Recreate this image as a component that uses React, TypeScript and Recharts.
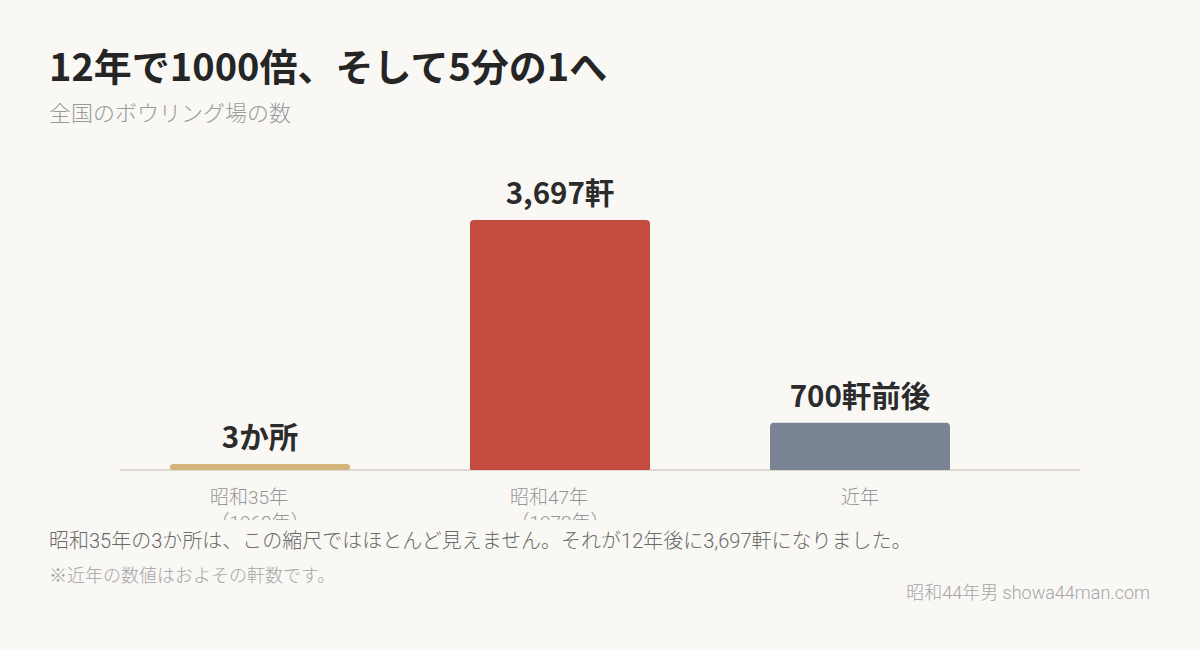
import React from 'react';
import { BarChart, Bar, XAxis, YAxis, LabelList, Cell, Rectangle } from 'recharts';

const categories = ['昭和35年', '昭和47年', '近年'];
const years = ['（1960年）', '（1972年）', ''];
const counts = [3, 3697, 700];
const valueLabels = ['3か所', '3,697軒', '700軒前後'];
const barColors = ['#D4B47A', '#C44B3F', '#7A8494'];

const data = categories.map((c, i) => ({
  name: c,
  value: counts[i],
  label: valueLabels[i],
}));

const JP = "'Noto Sans CJK JP', 'Noto Sans', sans-serif";
const RJ = "Roboto, 'Noto Sans CJK JP', sans-serif";

const Tick = (props: any) => {
  const { x, y, payload } = props;
  const idx = payload.index ?? 0;
  const yr = years[idx];
  return (
    <text x={x} y={y} textAnchor="middle" fill="#959595" fontSize={19} fontWeight={300} fontFamily={RJ}>
      <tspan x={yr ? x - 11 : x} dy={26}>{payload.value}</tspan>
      {yr ? <tspan x={x} dy={25}>{yr}</tspan> : null}
    </text>
  );
};

const BarShape = (p: any) => {
  const small = p.height < 10;
  const r = small ? p.height / 2 : 4;
  return (
    <Rectangle
      x={p.x}
      y={p.y}
      width={p.width}
      height={p.height}
      fill={p.fill}
      radius={small ? [r, r, r, r] : [4, 4, 1, 1]}
    />
  );
};

export default function App() {
  return (
    <div
      style={{
        position: 'absolute',
        left: 0,
        top: 0,
        width: 1200,
        height: 650,
        background: '#F9F8F5',
        overflow: 'hidden',
      }}
    >
      <div
        style={{
          position: 'absolute',
          left: 49,
          top: 38,
          fontFamily: JP,
          fontWeight: 700,
          fontSize: 38,
          color: '#252525',
          lineHeight: '54px',
          whiteSpace: 'nowrap',
        }}
      >
        12年で1000倍、そして5分の1へ
      </div>
      <div
        style={{
          position: 'absolute',
          left: 49,
          top: 95,
          fontFamily: JP,
          fontSize: 22,
          fontWeight: 300,
          color: '#9a9a9a',
          lineHeight: '32px',
          whiteSpace: 'nowrap',
        }}
      >
        全国のボウリング場の数
      </div>

      <div
        style={{
          position: 'absolute',
          left: 120,
          top: 469,
          width: 960,
          height: 2,
          background: '#DCD9D3',
        }}
      />

      <div
        style={{
          position: 'absolute',
          left: 0,
          top: 140,
          width: 1200,
          height: 380,
          overflow: 'hidden',
        }}
      >
        <BarChart
          width={1200}
          height={380}
          data={data}
          margin={{ top: 80, right: 190, bottom: 20, left: 110 }}
          barSize={180}
        >
          <XAxis
            dataKey="name"
            axisLine={false}
            tickLine={false}
            height={30}
            interval={0}
            tick={<Tick />}
          />
          <YAxis hide domain={[0, 3697]} />
          <Bar
            dataKey="value"
            isAnimationActive={false}
            minPointSize={6}
            shape={<BarShape />}
          >
            {data.map((d, i) => (
              <Cell key={d.name} fill={barColors[i]} />
            ))}
            <LabelList
              dataKey="label"
              position="top"
              offset={16}
              fill="#2b2b2b"
              fontSize={29.5}
              fontWeight={700}
              fontFamily={JP}
            />
          </Bar>
        </BarChart>
      </div>

      <div
        style={{
          position: 'absolute',
          left: 49,
          top: 526,
          fontFamily: RJ,
          fontSize: 20,
          fontWeight: 300,
          color: '#6a6a6a',
          lineHeight: '30px',
          whiteSpace: 'nowrap',
        }}
      >
        昭和35年の3か所は、この縮尺ではほとんど見えません。それが12年後に3,697軒になりました。
      </div>
      <div
        style={{
          position: 'absolute',
          left: 49,
          top: 563,
          fontFamily: RJ,
          fontSize: 18,
          fontWeight: 300,
          color: '#a5a5a5',
          lineHeight: '26px',
          whiteSpace: 'nowrap',
        }}
      >
        ※近年の数値はおよその軒数です。
      </div>
      <div
        style={{
          position: 'absolute',
          right: 50,
          top: 580,
          fontFamily: RJ,
          fontSize: 18,
          fontWeight: 300,
          color: '#a5a5a5',
          lineHeight: '26px',
          whiteSpace: 'nowrap',
        }}
      >
        昭和44年男 showa44man.com
      </div>
    </div>
  );
}
